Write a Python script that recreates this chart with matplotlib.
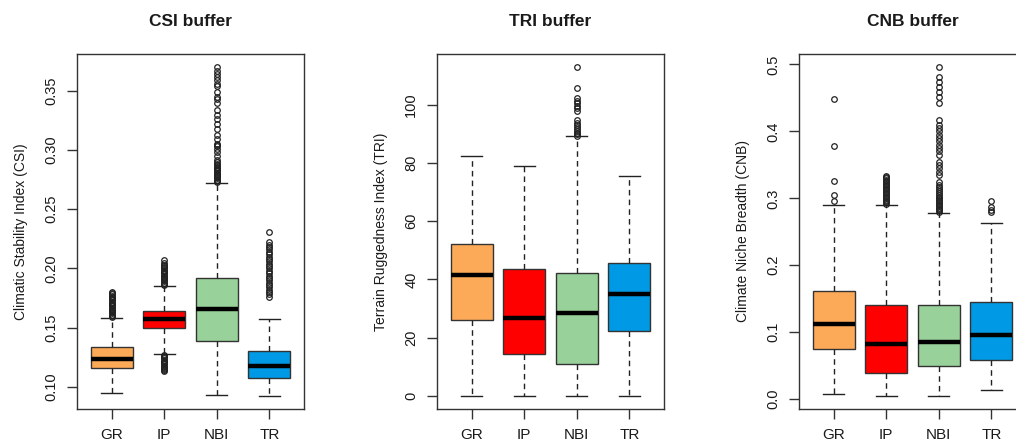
import matplotlib
matplotlib.use("Agg")
import matplotlib.pyplot as plt

plt.rcParams['font.family'] = ['Liberation Sans', 'DejaVu Sans']

groups = ["GR", "IP", "NBI", "TR"]
colors = ["#FDAA58", "#FF0000", "#98D29A", "#0099E5"]

titles = ["CSI buffer", "TRI buffer", "CNB buffer"]
ylabels = ["Climatic Stability Index (CSI)", "Terrain Ruggedness Index (TRI)",
           "Climate Niche Breadth (CNB)"]

# ---- CSI: (lower whisker, Q1, median, Q3, upper whisker)
csi_stats = [
    [0.0952, 0.1160, 0.1234, 0.1335, 0.1585],
    [0.1278, 0.1495, 0.1571, 0.1644, 0.1855],
    [0.0933, 0.1385, 0.1655, 0.1922, 0.2721],
    [0.0924, 0.1076, 0.1180, 0.1307, 0.1577],
]
csi_fliers = [
    [0.159, 0.160, 0.161, 0.162, 0.163, 0.164, 0.165, 0.166, 0.167, 0.168, 0.169,
     0.170, 0.171, 0.172, 0.173, 0.174, 0.175, 0.176, 0.177, 0.178, 0.179, 0.180],
    [0.186, 0.187, 0.188, 0.189, 0.190, 0.191, 0.192, 0.193, 0.194, 0.195, 0.196,
     0.197, 0.198, 0.199, 0.200, 0.201, 0.202, 0.203, 0.205, 0.207,
     0.127, 0.126, 0.125, 0.124, 0.123, 0.122, 0.121, 0.120, 0.119, 0.118, 0.117,
     0.116, 0.115, 0.114, 0.113],
    [0.273, 0.274, 0.275, 0.276, 0.277, 0.278, 0.279, 0.280, 0.281, 0.282, 0.283,
     0.284, 0.285, 0.286, 0.287, 0.288, 0.290, 0.292, 0.295, 0.298, 0.301, 0.303,
     0.304, 0.305, 0.309, 0.313, 0.318, 0.322, 0.326, 0.330, 0.334, 0.340, 0.343,
     0.345, 0.349, 0.354, 0.356, 0.359, 0.362, 0.364, 0.367, 0.370],
    [0.176, 0.178, 0.180, 0.182, 0.184, 0.186, 0.188, 0.190, 0.192, 0.194, 0.196,
     0.198, 0.200, 0.202, 0.204, 0.206, 0.208, 0.210, 0.212, 0.214, 0.216, 0.218,
     0.220, 0.222, 0.2305],
]

# ---- TRI
tri_stats = [
    [0.0, 26.2, 41.6, 52.3, 82.5],
    [0.0, 14.5, 26.7, 43.4, 79.1],
    [0.0, 11.0, 28.3, 42.2, 89.1],
    [0.0, 22.2, 35.0, 45.7, 75.4],
]
tri_fliers = [
    [],
    [],
    [89.3, 89.8, 90.4, 91.0, 91.6, 92.3, 93.0, 93.8, 94.6, 97.8, 98.8, 99.6,
     100.5, 101.4, 102.4, 105.9, 112.9],
    [],
]

# ---- CNB
cnb_stats = [
    [0.0084, 0.0746, 0.1128, 0.1610, 0.2908],
    [0.0050, 0.0388, 0.0825, 0.1412, 0.2908],
    [0.0050, 0.0492, 0.0860, 0.1412, 0.2788],
    [0.0139, 0.0591, 0.0964, 0.1456, 0.2634],
]
cnb_fliers = [
    [0.296, 0.305, 0.326, 0.378, 0.448],
    [0.292, 0.294, 0.296, 0.298, 0.300, 0.302, 0.304, 0.306, 0.308, 0.310,
     0.312, 0.314, 0.316, 0.318, 0.320, 0.322, 0.324, 0.326, 0.328, 0.330,
     0.332, 0.3335],
    [0.280, 0.282, 0.284, 0.286, 0.288, 0.290, 0.292, 0.294, 0.296, 0.298,
     0.300, 0.302, 0.305, 0.308, 0.311, 0.314, 0.317, 0.320, 0.325, 0.335,
     0.340, 0.345, 0.350, 0.355, 0.365, 0.370, 0.375, 0.380, 0.385, 0.390,
     0.395, 0.400, 0.405, 0.410, 0.417, 0.442, 0.452, 0.459, 0.467, 0.474,
     0.482, 0.496],
    [0.279, 0.283, 0.287, 0.296],
]

panels = [
    (csi_stats, csi_fliers, [0.10, 0.15, 0.20, 0.25, 0.30, 0.35],
     ["0.10", "0.15", "0.20", "0.25", "0.30", "0.35"]),
    (tri_stats, tri_fliers, [0, 20, 40, 60, 80, 100],
     ["0", "20", "40", "60", "80", "100"]),
    (cnb_stats, cnb_fliers, [0.0, 0.1, 0.2, 0.3, 0.4, 0.5],
     ["0.0", "0.1", "0.2", "0.3", "0.4", "0.5"]),
]

W, H = 1016, 441
fig = plt.figure(figsize=(W / 100, H / 100), dpi=100)
lefts = [77, 437, 799]
ax_w, ax_bot, ax_top = 227, 409, 54

text_col = "#1a1a1a"
edge_col = "#333333"

for i, (stats, fliers, yt, ytl) in enumerate(panels):
    ax = fig.add_axes([lefts[i] / W, (H - ax_bot) / H, ax_w / W, (ax_bot - ax_top) / H])
    bxp_stats = []
    for g, s, fl in zip(groups, stats, fliers):
        bxp_stats.append(dict(label=g, whislo=s[0], q1=s[1], med=s[2], q3=s[3],
                              whishi=s[4], fliers=fl))
    bp = ax.bxp(bxp_stats, positions=[1, 2, 3, 4], widths=0.8, patch_artist=True,
                showfliers=True,
                boxprops=dict(edgecolor=edge_col, linewidth=1.0),
                medianprops=dict(color="black", linewidth=3.2, solid_capstyle="butt"),
                whiskerprops=dict(color="#222222", linewidth=1.0, linestyle=(0, (4, 3))),
                capprops=dict(color="#222222", linewidth=1.0),
                capwidths=0.4,
                flierprops=dict(marker="o", markersize=4.0, markerfacecolor="none",
                                markeredgecolor="#222222", markeredgewidth=0.9,
                                linestyle="none"))
    for patch, c in zip(bp["boxes"], colors):
        patch.set_facecolor(c)
    # R-style limits (4% extension)
    allv = [v for s in stats for v in s] + [v for fl in fliers for v in fl]
    lo, hi = min(allv), max(allv)
    ext = 0.04 * (hi - lo)
    ax.set_ylim(lo - ext, hi + ext)
    ax.set_xlim(0.5 - 0.16, 4.5 + 0.16)
    ax.set_xticks([1, 2, 3, 4])
    ax.set_xticklabels(groups, fontsize=11, color=text_col)
    ax.set_yticks(yt)
    ax.set_yticklabels(ytl, fontsize=10.5, color=text_col, rotation=90, va="center")
    ax.tick_params(axis="both", direction="out", length=7.5, width=1.0,
                   color=edge_col)
    ax.tick_params(axis="x", pad=6.5)
    ax.tick_params(axis="y", pad=6)
    for sp in ax.spines.values():
        sp.set_color(edge_col)
        sp.set_linewidth(1.0)
    ax.set_ylabel(ylabels[i], fontsize=10, color=text_col, labelpad=12)
    ax.set_title(titles[i], fontsize=12.5, fontweight="bold", color=text_col, pad=20)

fig.savefig("out.png", dpi=100)
